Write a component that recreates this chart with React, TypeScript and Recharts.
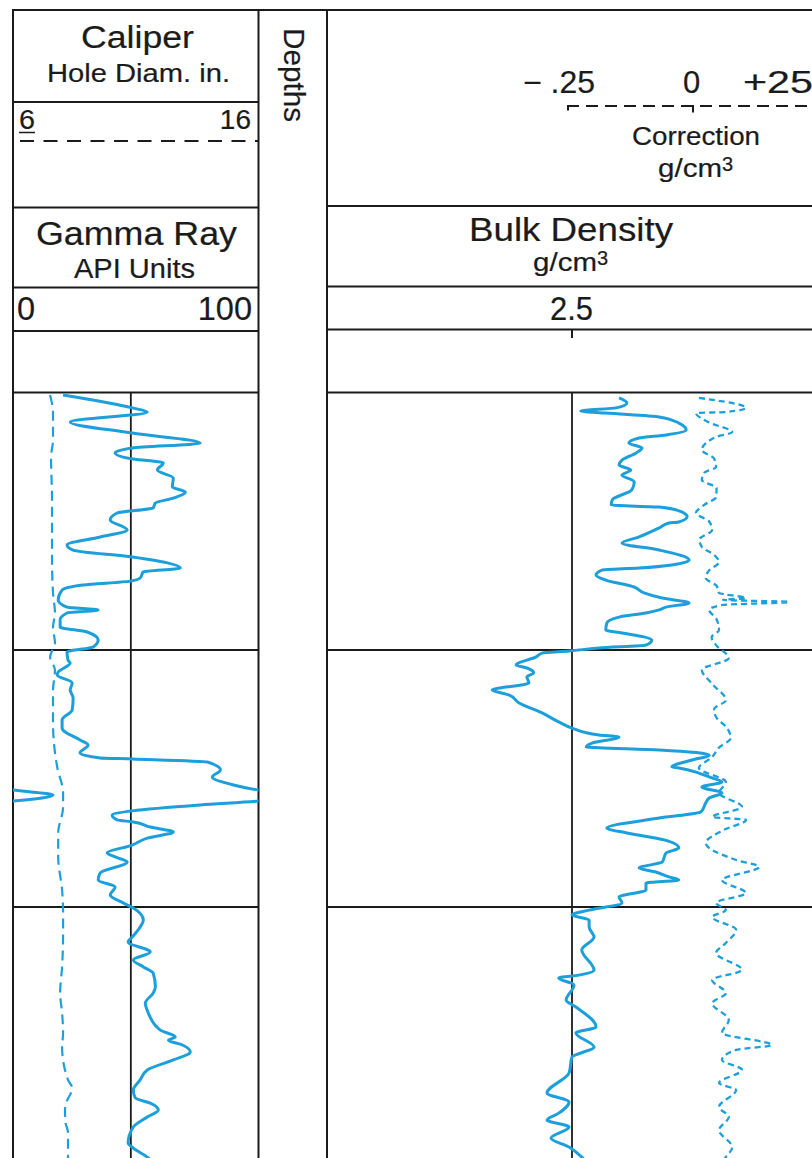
import React from 'react';
import { ScatterChart, Scatter, XAxis, YAxis, ReferenceLine } from 'recharts';

// ---- log curves: [depth (ft below top of section), reading] ----
const gammaRay: [number, number][] = [
  [0.08, 20.4], [0.58, 48.6], [0.74, 54.7], [1.13, 23.3], [1.56, 48.6], [1.95, 76.3], [2.14, 48.6],
  [2.33, 41.6], [2.57, 49.0], [2.72, 61.2], [3.0, 58.8], [3.31, 65.3], [3.66, 64.9], [3.85, 70.2],
  [4.09, 65.3], [4.28, 58.0], [4.47, 57.1], [4.67, 42.4], [4.94, 39.6], [5.33, 46.5], [5.6, 35.5],
  [5.91, 22.0], [6.11, 24.5], [6.38, 48.6], [6.61, 62.9], [6.81, 68.2], [6.96, 53.1], [7.2, 51.8],
  [7.32, 47.8], [7.47, 28.6], [7.67, 20.0], [8.05, 18.4], [8.33, 22.0], [8.44, 34.7], [8.56, 22.0],
  [8.83, 19.2], [9.11, 19.2], [9.3, 30.2], [9.61, 34.7], [9.88, 32.7], [10.08, 22.0], [10.39, 22.4],
  [10.51, 23.3], [10.86, 18.4], [10.97, 18.0], [11.28, 24.1], [11.56, 23.3], [11.87, 24.5], [12.33, 24.1],
  [12.72, 20.0], [13.04, 20.0], [13.5, 27.3], [13.7, 30.6], [14.01, 27.3], [14.2, 35.5], [14.24, 48.6],
  [14.36, 79.2], [14.67, 84.5], [14.94, 81.2], [15.25, 89.8], [15.45, 100], [15.64, 116.3], [15.88, 100],
  [16.03, 76.3], [16.26, 48.6], [16.42, 40.4], [16.61, 42.4], [16.69, 49.0], [16.89, 55.9], [17.08, 65.3],
  [17.32, 54.7], [17.59, 48.6], [17.9, 38.4], [18.05, 41.6], [18.25, 46.5], [18.68, 35.5], [18.95, 34.7],
  [19.22, 41.6], [19.53, 39.6], [19.84, 44.9], [20.04, 49.0], [20.51, 53.1], [20.78, 51.8], [21.17, 48.6],
  [21.36, 46.9], [21.75, 55.9], [22.06, 49.0], [22.33, 53.1], [22.57, 57.1], [23.11, 58.0], [23.35, 57.1],
  [23.74, 53.9], [24.12, 55.1], [24.79, 60.0], [25.06, 66.1], [25.18, 63.3], [25.37, 69.0], [25.64, 72.2],
  [25.95, 65.3], [26.34, 54.7], [26.73, 51.8], [27.12, 49.0], [27.43, 49.8], [27.63, 55.9], [27.9, 59.2],
  [28.17, 54.7], [28.56, 49.0], [29.18, 46.9], [29.38, 49.0], [29.73, 54.7], [30.05, 58.0],
];

const caliper: [number, number][] = [
  [0.08, 7.51], [0.78, 7.63], [1.83, 7.63], [2.49, 7.55], [4.16, 7.59], [6.5, 7.59], [7.78, 7.63],
  [8.56, 7.71], [9.11, 7.63], [9.73, 7.71], [10.27, 7.51], [10.78, 7.71], [11.56, 7.63], [12.84, 7.63],
  [14.55, 7.8], [15.56, 8.04], [16.11, 8.04], [17.12, 7.84], [18.05, 7.84], [19.34, 8.0], [20.23, 8.04],
  [21.01, 8.04], [22.33, 8.0], [23.35, 7.92], [24.12, 8.0], [24.9, 8.04], [25.45, 8.0], [26.73, 8.24],
  [27.04, 8.41], [27.78, 8.12], [28.29, 8.12], [28.79, 8.24], [30.05, 8.24],
];

const bulkDensity: [number, number][] = [
  [0.19, 2.596], [0.39, 2.612], [0.58, 2.59], [0.7, 2.518], [0.78, 2.569], [0.93, 2.678], [1.17, 2.718],
  [1.44, 2.733], [1.63, 2.692], [1.75, 2.637], [1.95, 2.616], [2.14, 2.643], [2.33, 2.631], [2.61, 2.602],
  [2.8, 2.596], [3.0, 2.62], [3.19, 2.602], [3.46, 2.627], [3.77, 2.622], [4.16, 2.582], [4.36, 2.58],
  [4.44, 2.678], [4.63, 2.724], [4.82, 2.735], [5.02, 2.718], [5.06, 2.698], [5.25, 2.678], [5.6, 2.637],
  [5.84, 2.602], [6.11, 2.678], [6.5, 2.739], [6.69, 2.704], [6.81, 2.637], [6.89, 2.561], [7.08, 2.549],
  [7.28, 2.569], [7.55, 2.627], [7.78, 2.647], [7.98, 2.684], [8.17, 2.739], [8.33, 2.692], [8.44, 2.678],
  [8.56, 2.651], [8.72, 2.596], [8.95, 2.571], [9.22, 2.569], [9.34, 2.602], [9.49, 2.647], [9.61, 2.663],
  [9.81, 2.651], [9.92, 2.555], [10.04, 2.494], [10.12, 2.439], [10.27, 2.427], [10.58, 2.386], [10.7, 2.408],
  [10.89, 2.422], [11.05, 2.408], [11.28, 2.412], [11.56, 2.337], [11.75, 2.371], [12.06, 2.392], [12.45, 2.439],
  [12.8, 2.473], [13.04, 2.5], [13.31, 2.555], [13.39, 2.596], [13.62, 2.541], [13.77, 2.529], [13.89, 2.678],
  [14.09, 2.78], [14.28, 2.745], [14.55, 2.704], [14.59, 2.718], [14.79, 2.759], [14.94, 2.78], [15.14, 2.806],
  [15.33, 2.765], [15.56, 2.806], [15.76, 2.78], [15.95, 2.773], [16.3, 2.763], [16.54, 2.678], [16.93, 2.571],
  [17.12, 2.612], [17.39, 2.688], [17.7, 2.718], [17.9, 2.692], [18.25, 2.684], [18.48, 2.637], [18.64, 2.671],
  [18.83, 2.698], [18.95, 2.718], [19.07, 2.651], [19.34, 2.651], [19.61, 2.596], [19.84, 2.602], [20.12, 2.535],
  [20.31, 2.5], [20.51, 2.535], [20.78, 2.535], [21.17, 2.545], [21.67, 2.52], [22.45, 2.545], [22.65, 2.514],
  [22.76, 2.473], [23.04, 2.504], [23.62, 2.488], [23.89, 2.508], [24.67, 2.549], [24.9, 2.508], [25.45, 2.545],
  [25.84, 2.5], [26.46, 2.494], [27.24, 2.449], [27.59, 2.494], [28.02, 2.473], [28.29, 2.449], [28.56, 2.494],
  [28.99, 2.457], [29.34, 2.494], [29.73, 2.52], [30.05, 2.535],
];

const densityCorrection: [number, number][] = [
  [0.19, 0.009], [0.58, 0.105], [0.74, 0.064], [0.78, 0.003], [1.15, 0.03], [1.52, 0.077], [1.71, 0.044],
  [2.22, 0.015], [2.55, 0.04], [2.88, 0.044], [3.1, 0.02], [3.39, 0.015], [3.7, 0.045], [4.05, 0.044],
  [4.35, 0.02], [4.67, 0.003], [5.0, 0.03], [5.33, 0.036], [5.7, 0.01], [5.99, 0.015], [6.3, 0.04],
  [6.58, 0.05], [6.9, 0.03], [7.2, 0.023], [7.5, 0.045], [7.78, 0.05], [7.98, 0.105], [8.05, 0.058],
  [8.13, 0.193], [8.25, 0.056], [8.44, 0.03], [8.8, 0.045], [9.22, 0.05], [9.5, 0.035], [9.81, 0.044],
  [10.31, 0.07], [10.78, 0.015], [11.3, 0.035], [11.95, 0.064], [12.3, 0.04], [12.61, 0.044], [13.0, 0.065],
  [13.42, 0.074], [13.8, 0.05], [14.16, 0.036], [14.59, 0.009], [15.14, 0.064], [15.56, 0.05], [16.11, 0.097],
  [16.5, 0.036], [16.61, 0.105], [17.0, 0.06], [17.51, 0.023], [18.17, 0.085], [18.44, 0.132], [18.95, 0.056],
  [19.46, 0.105], [19.84, 0.044], [20.12, 0.064], [20.39, 0.036], [20.89, 0.085], [21.4, 0.064], [21.79, 0.044],
  [22.45, 0.097], [22.84, 0.036], [23.35, 0.064], [23.74, 0.036], [24.4, 0.07], [24.9, 0.056], [25.37, 0.158],
  [25.56, 0.085], [25.95, 0.056], [26.34, 0.097], [26.85, 0.05], [27.12, 0.085], [27.78, 0.05], [28.17, 0.07],
  [28.68, 0.05], [29.34, 0.077], [29.73, 0.064], [30.05, 0.05],
];

// ---- scales ----
const DEPTH_RANGE: [number, number] = [0, 30];
const DEPTH_LINES = [10, 20];
const GAMMA_SCALE: [number, number] = [0, 100];
const GAMMA_GRID = 48;
const CALIPER_SCALE: [number, number] = [6, 16];
const DENSITY_SCALE: [number, number] = [2.0, 3.0];
const DENSITY_GRID = 2.5;
const CORRECTION_SCALE: [number, number] = [-0.75, 0.25];

const LOG_BLUE = '#1c9fda';
const INK = '#1b1b1b';
const FONT = '"Liberation Sans", Arial, Helvetica, sans-serif';

const toPoints = (rows: [number, number][], shift = 0) =>
  rows.map(([depth, value]) => ({ depth, value: value - shift }));

const gammaPoints = toPoints(gammaRay);
// backup trace: readings above 100 API wrap around to the left edge
const gammaBackupPoints = toPoints(gammaRay, GAMMA_SCALE[1]);
const caliperPoints = toPoints(caliper);
const densityPoints = toPoints(bulkDensity);
const correctionPoints = toPoints(densityCorrection);

const NoMarker = () => <g />;

const TRACK_TOP = 392.5;
const TRACK_HEIGHT = 771;

const solid = { stroke: LOG_BLUE, strokeWidth: 3, strokeLinejoin: 'round' as const, fill: 'none' };
const CURVE = 'monotoneY' as const;

function LeftTrack() {
  return (
    <div style={{ position: 'absolute', left: 13, top: TRACK_TOP, width: 245.5, height: TRACK_HEIGHT }}>
      <ScatterChart width={245.5} height={TRACK_HEIGHT} margin={{ top: 0, right: 0, bottom: 0, left: 0 }}>
        <XAxis xAxisId="gr" type="number" dataKey="value" domain={GAMMA_SCALE} allowDataOverflow hide />
        <XAxis xAxisId="cal" type="number" dataKey="value" domain={CALIPER_SCALE} allowDataOverflow hide />
        <YAxis yAxisId="d" type="number" dataKey="depth" domain={DEPTH_RANGE} reversed allowDataOverflow hide />
        <ReferenceLine xAxisId="gr" yAxisId="d" x={GAMMA_GRID} stroke={INK} strokeWidth={1.8} />
        {DEPTH_LINES.map((d) => (
          <ReferenceLine key={d} xAxisId="gr" yAxisId="d" y={d} stroke={INK} strokeWidth={1.8} />
        ))}
        <Scatter
          xAxisId="cal"
          yAxisId="d"
          data={caliperPoints}
          fill={LOG_BLUE}
          shape={NoMarker}
          lineJointType={CURVE}
          line={{ stroke: LOG_BLUE, strokeWidth: 2.2, strokeDasharray: '10 6', fill: 'none' }}
          isAnimationActive={false}
        />
        <Scatter xAxisId="gr" yAxisId="d" data={gammaPoints} fill={LOG_BLUE} shape={NoMarker} lineJointType={CURVE} line={solid} isAnimationActive={false} />
        <Scatter xAxisId="gr" yAxisId="d" data={gammaBackupPoints} fill={LOG_BLUE} shape={NoMarker} lineJointType={CURVE} line={solid} isAnimationActive={false} />
      </ScatterChart>
    </div>
  );
}

function RightTrack() {
  return (
    <div style={{ position: 'absolute', left: 327, top: TRACK_TOP, width: 490, height: TRACK_HEIGHT }}>
      <ScatterChart width={490} height={TRACK_HEIGHT} margin={{ top: 0, right: 0, bottom: 0, left: 0 }}>
        <XAxis xAxisId="rhob" type="number" dataKey="value" domain={DENSITY_SCALE} allowDataOverflow hide />
        <XAxis xAxisId="drho" type="number" dataKey="value" domain={CORRECTION_SCALE} allowDataOverflow hide />
        <YAxis yAxisId="d" type="number" dataKey="depth" domain={DEPTH_RANGE} reversed allowDataOverflow hide />
        <ReferenceLine xAxisId="rhob" yAxisId="d" x={DENSITY_GRID} stroke={INK} strokeWidth={1.8} />
        {DEPTH_LINES.map((d) => (
          <ReferenceLine key={d} xAxisId="rhob" yAxisId="d" y={d} stroke={INK} strokeWidth={1.8} />
        ))}
        <Scatter
          xAxisId="drho"
          yAxisId="d"
          data={correctionPoints}
          fill={LOG_BLUE}
          shape={NoMarker}
          lineJointType={CURVE}
          line={{ stroke: LOG_BLUE, strokeWidth: 2.3, strokeDasharray: '6 4', fill: 'none' }}
          isAnimationActive={false}
        />
        <Scatter xAxisId="rhob" yAxisId="d" data={densityPoints} fill={LOG_BLUE} shape={NoMarker} lineJointType={CURVE} line={solid} isAnimationActive={false} />
      </ScatterChart>
    </div>
  );
}

type TxtProps = {
  x: number;
  y: number;
  size: number;
  len?: number;
  anchor?: 'start' | 'middle' | 'end';
  children: React.ReactNode;
  transform?: string;
};

const Txt = ({ x, y, size, len, anchor = 'start', children, transform }: TxtProps) => (
  <text
    x={x}
    y={y}
    fontSize={size}
    fontFamily={FONT}
    fill={INK}
    stroke={INK}
    strokeWidth={0.2}
    textAnchor={anchor}
    textLength={len}
    lengthAdjust={len ? 'spacingAndGlyphs' : undefined}
    transform={transform}
  >
    {children}
  </text>
);

function Frame() {
  const line = { stroke: INK, strokeWidth: 2 };
  return (
    <svg width={812} height={1158} style={{ position: 'absolute', left: 0, top: 0 }}>
      {/* outer borders */}
      <line x1={12} y1={10} x2={812} y2={10} {...line} />
      <line x1={13} y1={9} x2={13} y2={1158} {...line} />
      <line x1={258.5} y1={9} x2={258.5} y2={1158} {...line} />
      <line x1={327} y1={9} x2={327} y2={1158} {...line} />

      {/* track 1 header rows */}
      {[102, 207.5, 287.5, 331, TRACK_TOP].map((y) => (
        <line key={'l' + y} x1={13} y1={y} x2={258.5} y2={y} {...line} />
      ))}
      {/* track 2-3 header rows */}
      {[206, 286.5, 329.5, TRACK_TOP].map((y) => (
        <line key={'r' + y} x1={327} y1={y} x2={812} y2={y} {...line} />
      ))}

      {/* caliper header */}
      <Txt x={81} y={48} size={31} len={113}>Caliper</Txt>
      <Txt x={47} y={82} size={26.5} len={183}>Hole Diam. in.</Txt>
      <Txt x={19} y={129} size={28} len={16}>6</Txt>
      <line x1={19} y1={132.5} x2={35} y2={132.5} stroke={INK} strokeWidth={1.5} />
      <Txt x={251} y={129} size={28} anchor="end">16</Txt>
      <line x1={20} y1={141} x2={258} y2={141} stroke={INK} strokeWidth={2} strokeDasharray="14 9.5" />

      {/* gamma ray header */}
      <Txt x={36} y={245} size={33} len={201}>Gamma Ray</Txt>
      <Txt x={74} y={278} size={27} len={121}>API Units</Txt>
      <Txt x={17} y={320} size={32.5}>0</Txt>
      <Txt x={252} y={320} size={32.5} anchor="end">100</Txt>

      {/* depth column */}
      <Txt x={0} y={0} size={30} len={94} transform="translate(283.5 28) rotate(90)">Depths</Txt>

      {/* density correction header */}
      <Txt x={523} y={92.5} size={31} len={72}>− .25</Txt>
      <Txt x={683} y={92.5} size={31}>0</Txt>
      <Txt x={743} y={92.5} size={31} len={70}>+25</Txt>
      <line x1={567} y1={106} x2={812} y2={106} stroke={INK} strokeWidth={2} strokeDasharray="12 7" />
      <line x1={568} y1={105} x2={568} y2={110.5} stroke={INK} strokeWidth={2} />
      <line x1={693} y1={105} x2={693} y2={112.5} stroke={INK} strokeWidth={2} />
      <Txt x={632} y={144.5} size={25} len={128}>Correction</Txt>
      <Txt x={658} y={177} size={26} len={64}>g/cm</Txt>
      <Txt x={722} y={171} size={20}>3</Txt>

      {/* bulk density header */}
      <Txt x={469} y={240.5} size={32.5} len={204}>Bulk Density</Txt>
      <Txt x={533} y={270.5} size={25} len={64}>g/cm</Txt>
      <Txt x={597} y={265} size={20}>3</Txt>
      <Txt x={550} y={320} size={32.5} len={43}>2.5</Txt>
      <line x1={572} y1={329.5} x2={572} y2={338} stroke={INK} strokeWidth={2} />
    </svg>
  );
}

export default function App() {
  return (
    <div
      style={{
        position: 'absolute',
        left: 0,
        top: 0,
        width: 812,
        height: 1158,
        overflow: 'hidden',
        background: '#ffffff',
      }}
    >
      <Frame />
      <LeftTrack />
      <RightTrack />
    </div>
  );
}
